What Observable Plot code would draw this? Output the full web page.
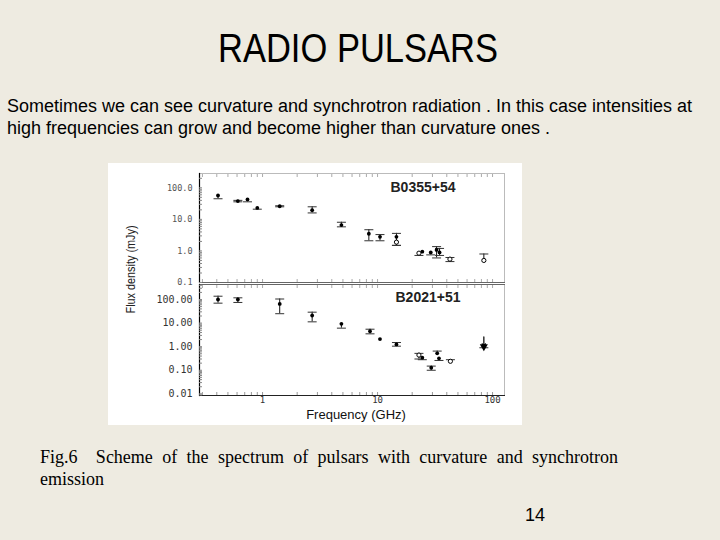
<!DOCTYPE html>
<html><head><meta charset="utf-8">
<script src="https://cdn.jsdelivr.net/npm/d3@7"></script>
<script src="https://cdn.jsdelivr.net/npm/@observablehq/plot@0.6"></script>
<style>
html,body{margin:0;padding:0;background:#eeebe1;}
#slide{position:relative;width:720px;height:540px;overflow:hidden;background:#eeebe1;}
.abs{position:absolute;white-space:nowrap;transform-origin:0 0;margin:0;}
#figbox{position:absolute;left:108px;top:163px;width:414px;height:262px;background:#fff;}
#figbox svg{position:absolute;left:0;}
</style></head><body>
<div id="slide"><div id="figbox"></div></div>
<script>
// ---- texts ----
const titleText = "RADIO PULSARS";
const paraLines = [
  "Sometimes we can see curvature and synchrotron radiation . In this case intensities at",
  "high frequencies can grow and become higher than curvature ones ."
];
const captionLines = [
  "Fig.6\u2002 Scheme of the spectrum of pulsars with curvature and synchrotron",
  "emission"
];
const pageNumber = "14";
const pulsarNames = ["B0355+54", "B2021+51"];
const xLabel = "Frequency (GHz)";
const yLabel = "Flux density (mJy)";
const xTickLabels = [1, 10, 100];
const yTicksTop = [100, 10, 1, 0.1];
const yTicksBottom = [100, 10, 1, 0.1, 0.01];

// ---- B0355+54 (top panel) ----
const freqA = [0.41, 0.61, 0.74, 0.9, 1.41, 2.7, 4.85, 8.4, 10.5, 14.6, 14.6, 22.9, 24.5, 29, 32.6, 34.6, 42.6, 84];
const fluxA = [57, 38, 43, 23, 26, 19.5, 6.6, 3.5, 2.8, 2.8, 1.9, 0.85, 0.95, 0.9, 1.08, 0.9, 0.55, 0.5];
const loA   = [45, 36, 36, 21, 25, 16, 5.8, 2.1, 2.1, 1.5, 1.5, 0.72, null, 0.75, 0.6, 0.72, 0.46, null];
const hiA   = [null, 40, null, null, 27, 25, 8.1, 4.7, 3.3, 3.6, null, null, null, null, 1.37, 1.2, 0.62, 0.8];
const openA = [false, false, false, false, false, false, false, false, false, false, true, true, false, false, false, false, true, true];

// ---- B2021+51 (bottom panel) ----
const freqB = [0.41, 0.61, 1.41, 2.7, 4.85, 8.6, 10.5, 14.6, 22.9, 24.5, 29.3, 33, 34.2, 43, 84];
const fluxB = [100, 100, 65, 21, 9.3, 4.5, 2.1, 1.25, 0.44, 0.34, 0.128, 0.52, 0.32, 0.24, 1.0];
const loB   = [70, 75, 25, 11.3, 6.1, 3.5, null, 1.05, 0.3, 0.28, 0.1, null, 0.26, null, 0.9];
const hiB   = [138, 118, 105, 29, null, 5.5, null, 1.5, 0.52, null, 0.15, 0.65, null, 0.28, null];
const openB = [false, false, false, false, false, false, false, false, true, false, false, false, false, true, false];
const limitB = [null, null, null, null, null, null, null, null, null, null, null, null, null, null, 2.6];

const slide = document.getElementById("slide");
const figbox = document.getElementById("figbox");

function place(text, o) {
  const el = document.createElement("div");
  el.className = "abs";
  el.textContent = text;
  Object.assign(el.style, {
    left: o.x + "px", top: o.y + "px", fontSize: o.size + "px",
    fontFamily: o.family, lineHeight: o.size + "px", color: o.color || "#000",
    fontWeight: o.weight || "normal"
  });
  if (o.width) { el.style.width = o.width + "px"; el.style.textAlign = "justify"; el.style.textAlignLast = o.last || "justify"; el.style.whiteSpace = "normal"; }
  slide.appendChild(el);
  return el;
}
function fit(el, target) {
  const w = el.getBoundingClientRect().width;
  const s = target / w;
  el.style.transform = `scaleX(${s})`;
  return s;
}

// title
const t = place(titleText, {x: 218, y: 28, size: 41, family: "'Liberation Sans Narrow', 'Liberation Sans', Arial"});
fit(t, 280);
// paragraph
const p1 = place(paraLines[0], {x: 7, y: 97, size: 18, family: "'Liberation Sans', Arial"});
const ps = fit(p1, 685);
const p2 = place(paraLines[1], {x: 7, y: 119, size: 18, family: "'Liberation Sans', Arial"});
p2.style.transform = `scaleX(${ps})`;
// caption
place(captionLines[0], {x: 40, y: 448, size: 18, family: "'Liberation Serif', 'Times New Roman', serif", width: 578});
place(captionLines[1], {x: 40, y: 470, size: 18, family: "'Liberation Serif', 'Times New Roman', serif"});
// page number
place(pageNumber, {x: 525, y: 506, size: 18, family: "'Liberation Sans', Arial"});

// y label (rotated)
const yl = document.createElement("div");
yl.textContent = yLabel;
Object.assign(yl.style, {position: "absolute", whiteSpace: "nowrap", fontFamily: "'Liberation Sans Narrow', 'Liberation Sans', Arial", fontSize: "13px", lineHeight: "13px", color: "#222"});
slide.appendChild(yl);
const ylw = yl.getBoundingClientRect().width;
yl.style.left = (131 - ylw / 2) + "px";
yl.style.top = (269 - 6.5) + "px";
yl.style.transformOrigin = "50% 50%";
yl.style.transform = `rotate(-90deg) scaleX(${88 / ylw})`;

// ---- chart ----
const capSymbol = {draw(ctx, size) { const w = Math.sqrt(size / Math.PI); ctx.moveTo(-w, 0); ctx.lineTo(w, 0); }};
const xDomain = [0.283, 127];

function rows(freq, flux, lo, hi, open, lim) {
  return freq.map((f, i) => ({f, s: flux[i], lo: lo[i], hi: hi[i], open: open[i], lim: lim ? lim[i] : null}));
}
function dataMarks(data) {
  const err = data.filter(d => d.lo != null || d.hi != null);
  return [
    Plot.ruleX(err, {x: "f", y1: d => d.lo ?? d.s, y2: d => d.hi ?? d.s, stroke: "#111", strokeWidth: 1}),
    Plot.dot(data.filter(d => d.lo != null), {x: "f", y: "lo", symbol: capSymbol, r: 4.5, stroke: "#333", fill: "none", strokeWidth: 1}),
    Plot.dot(data.filter(d => d.hi != null), {x: "f", y: "hi", symbol: capSymbol, r: 4.5, stroke: "#333", fill: "none", strokeWidth: 1}),
    Plot.arrow(data.filter(d => d.lim != null), {x1: "f", x2: "f", y1: "lim", y2: "s", stroke: "#000", strokeWidth: 1.2, headLength: 5}),
    Plot.dot(data.filter(d => !d.open && d.lim == null), {x: "f", y: "s", r: 1.9, fill: "#000"}),
    Plot.dot(data.filter(d => d.lim != null), {x: "f", y: "s", symbol: "triangle", rotate: 180, r: 3, fill: "#000"}),
    Plot.dot(data.filter(d => d.open), {x: "f", y: "s", r: 2.1, fill: "#fff", stroke: "#000", strokeWidth: 1})
  ];
}

const dataA = rows(freqA, fluxA, loA, hiA, openA, null);
const dataB = rows(freqB, fluxB, loB, hiB, openB, limitB);

const topPlot = Plot.plot({
  width: 414, height: 120,
  marginLeft: 91, marginRight: 18, marginTop: 10, marginBottom: 1,
  x: {type: "log", domain: xDomain, axis: null},
  y: {type: "log", domain: [0.1, 284], axis: null},
  style: {background: "transparent", overflow: "visible"},
  marks: [
    Plot.frame({stroke: "#bbb", strokeWidth: 1}),
    Plot.frame({anchor: "bottom", stroke: "#666", strokeWidth: 1}),
    Plot.frame({anchor: "left", stroke: "#000", strokeWidth: 1.2}),
    Plot.axisY({ticks: 30, text: null, tickSize: 3, dx: 3, stroke: "#888", label: null}),
    Plot.axisX({anchor: "top", ticks: 30, text: null, tickSize: 3, dy: 3, stroke: "#aaa", label: null}),
    Plot.axisX({anchor: "bottom", ticks: 30, text: null, tickSize: 3, dy: -3, stroke: "#aaa", label: null}),
    Plot.axisY(yTicksTop, {tickFormat: d => d.toFixed(1), tickSize: 0, tickPadding: 7, fontFamily: "'DejaVu Sans Mono', monospace", fontSize: 8.5, fill: "#555", label: null}),
    ...dataMarks(dataA),
    Plot.text([pulsarNames[0]], {frameAnchor: "top-right", dx: -49, dy: 14, textAnchor: "end", lineAnchor: "middle", fontWeight: "bold", fontSize: 14, fontFamily: "'Liberation Sans', Arial", fill: "#222"})
  ]
});
topPlot.style.top = "0px";
topPlot.style.zIndex = "2";

const bottomPlot = Plot.plot({
  width: 414, height: 142,
  marginLeft: 91, marginRight: 18, marginTop: 1, marginBottom: 30,
  x: {type: "log", domain: xDomain, axis: null},
  y: {type: "log", domain: [0.0085, 433], axis: null},
  style: {background: "transparent", overflow: "visible"},
  marks: [
    Plot.frame({stroke: "#bbb", strokeWidth: 1}),
    Plot.frame({anchor: "top", stroke: "#666", strokeWidth: 1}),
    Plot.frame({anchor: "bottom", stroke: "#222", strokeWidth: 1}),
    Plot.frame({anchor: "left", stroke: "#000", strokeWidth: 1.2}),
    Plot.axisY({ticks: 30, text: null, tickSize: 3, dx: 3, stroke: "#888", label: null}),
    Plot.axisX({anchor: "top", ticks: 30, text: null, tickSize: 3, dy: 3, stroke: "#aaa", label: null}),
    Plot.axisX({anchor: "bottom", ticks: 30, text: null, tickSize: 3, dy: -3, stroke: "#999", label: null}),
    Plot.axisY(yTicksBottom, {tickFormat: d => d.toFixed(2), tickSize: 0, tickPadding: 7, fontFamily: "'DejaVu Sans Mono', monospace", fontSize: 10, fill: "#333", label: null}),
    Plot.axisX(xTickLabels, {tickFormat: d => String(d), tickSize: 0, tickPadding: 1, fontFamily: "'DejaVu Sans Mono', monospace", fontSize: 9, fill: "#333", label: null}),
    ...dataMarks(dataB),
    Plot.text([pulsarNames[1]], {frameAnchor: "top-right", dx: -44, dy: 13, textAnchor: "end", lineAnchor: "middle", fontWeight: "bold", fontSize: 14, fontFamily: "'Liberation Sans', Arial", fill: "#222"}),
    Plot.text([xLabel], {frameAnchor: "bottom", dx: 4, dy: 19, lineAnchor: "middle", fontSize: 13, fontFamily: "'Liberation Sans', Arial", fill: "#111"})
  ]
});
bottomPlot.style.top = "120px";
bottomPlot.style.zIndex = "1";
figbox.appendChild(bottomPlot);
figbox.appendChild(topPlot);
</script>
</body></html>
